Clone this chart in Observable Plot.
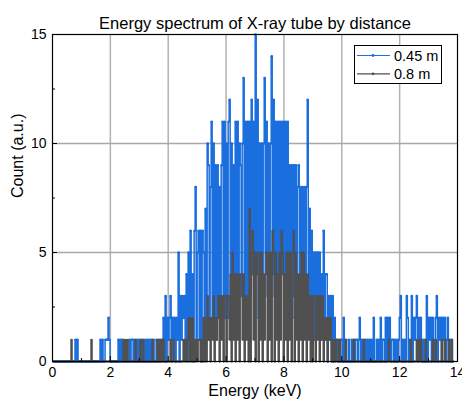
<!DOCTYPE html>
<html><head><meta charset="utf-8">
<script src="https://cdn.jsdelivr.net/npm/d3@7"></script>
<script src="https://cdn.jsdelivr.net/npm/@observablehq/plot@0.6"></script>
<style>
body{margin:0;background:#fff;}
#chart{width:462px;height:403px;}
</style>
</head><body><div id="chart"></div>
<script>
// ---- data (counts per channel, hex digit per channel) ----
const titleText = "Energy spectrum of X-ray tube by distance";
const xLabel = "Energy (keV)";
const yLabel = "Count (a.u.)";
const seriesNames = ["0.45 m", "0.8 m"];
const seriesColors = ["#1b6ede", "#505050"];
const channelStart = 0.035;   // keV, energy of first channel
const channelWidth = 0.0346;  // keV per channel
const counts045 = [
  "0000000000","0000000000","0010100000","0000000000","0000000101",
  "0011121000","0000010101","0000001011","0101010101","0010101010",
  "1001010101","2030212302","1202150313","2314051614","0681561606",
  "5172a918b2","a29192829b","2b2a2bc2a3","92b3b2a93a","d2b3b2b3c4",
  "b3f4c2a4a3","ad4b3a2ae4","c3b4b2b3b4","b3b4b39493","9293893828",
  "3828c37262","5152525142","6144031303","0211010110","2010010010",
  "1011012010","1010101010","2001010201","1020212011","0101012301",
  "0103201030","2123021201","0103021202","1023021202","1201201010"
].join("");
const counts08 = [
  "0000000000","0000000010","0000000000","0000000010","0000000000",
  "0000000000","0000000000","1010100000","0010000100","1000000001",
  "0000101010","1000000100","1000000000","1010120202","0101011010",
  "2020312021","3021230313","0330331405","1404140441","4031307056",
  "1505405150","4145051506","5051405165","0415051504","6051404150",
  "5140413030","3303130313","0212021201","0101101000","0010000000",
  "1000000000","1000000000","0000000000","0000010000","0000000000",
  "0000000100","0001010100","0010000001","0010000010","0100010010"
].join("");
const xTicks = [0, 2, 4, 6, 8, 10, 12, 14];
const yTicks = [0, 5, 10, 15];
const xMinor = [1, 3, 5, 7, 9, 11, 13];
const yMinor = [2.5, 7.5, 12.5];

// ---- build table ----
function toRows(str, name) {
  return Array.from(str, (c, i) => ({energy: channelStart + i * channelWidth, count: parseInt(c, 16), series: name}));
}
const rows045 = toRows(counts045, seriesNames[0]);
const rows08 = toRows(counts08, seriesNames[1]);

const W = 462, H = 403, mL = 52, mR = 5, mT = 34, mB = 42;
const fw = W - mL - mR, fh = H - mT - mB;
const FONT = "'Liberation Sans', Arial, sans-serif";

const plot = Plot.plot({
  width: W, height: H,
  marginLeft: mL, marginRight: mR, marginTop: mT, marginBottom: mB,
  style: {fontFamily: FONT, background: "#fff", color: "#000", overflow: "visible"},
  x: {domain: [0, 14]},
  y: {domain: [0, 15]},
  marks: [
    Plot.ruleX(xTicks.slice(1, -1), {stroke: "#b2b2b2", strokeWidth: 1.5}),
    Plot.ruleY(yTicks.slice(1, -1), {stroke: "#a8a8a8", strokeWidth: 1.5}),
    Plot.line(rows045, {x: "energy", y: "count", curve: "step", stroke: seriesColors[0], strokeWidth: 1.5}),
    Plot.dot(rows045, {x: "energy", y: "count", r: 1.3, fill: seriesColors[0]}),
    Plot.line(rows08, {x: "energy", y: "count", curve: "step", stroke: seriesColors[1], strokeWidth: 1.5}),
    Plot.dot(rows08, {x: "energy", y: "count", r: 0.9, fill: seriesColors[1]}),
    Plot.frame({stroke: "#000", strokeWidth: 1.2}),
    Plot.tickX(xTicks, {x: d => d, insetTop: fh - 5, stroke: "#000"}),
    Plot.tickX(xMinor, {x: d => d, insetTop: fh - 3, stroke: "#000"}),
    Plot.tickY(yTicks, {y: d => d, insetRight: fw - 5, stroke: "#000"}),
    Plot.tickY(yMinor, {y: d => d, insetRight: fw - 3, stroke: "#000"}),
    Plot.axisX(xTicks, {tickSize: 0, tickPadding: 6, fontSize: 14, label: null}),
    Plot.axisY(yTicks, {tickSize: 0, tickPadding: 6, fontSize: 14, label: null}),
    Plot.text([xLabel], {frameAnchor: "bottom", dy: 34.5, fontSize: 16}),
    Plot.text([yLabel], {frameAnchor: "left", dx: -35, rotate: -90, fontSize: 16}),
    Plot.text([titleText], {frameAnchor: "top", dy: -17, fontSize: 16.5})
  ]
});

// ---- legend inside the frame, top right ----
const svg = d3.select(plot);
const lg = svg.append("g").attr("font-family", FONT).attr("font-size", 14.5).attr("text-anchor", "start");
lg.append("rect").attr("x", 354.5).attr("y", 45.5).attr("width", 87).attr("height", 38)
  .attr("fill", "#fff").attr("stroke", "#000").attr("stroke-width", 1);
seriesNames.forEach((name, k) => {
  const yy = 55.5 + k * 18.3;
  lg.append("line").attr("x1", 357).attr("x2", 390).attr("y1", yy).attr("y2", yy)
    .attr("stroke", seriesColors[k]).attr("stroke-width", 1.2);
  lg.append("circle").attr("cx", 373).attr("cy", yy).attr("r", 1.4).attr("fill", seriesColors[k]);
  lg.append("text").attr("x", 394).attr("y", yy).attr("dy", "0.35em").attr("fill", "#000")
    .attr("text-anchor", "start").text(name);
});

document.getElementById("chart").appendChild(plot);
</script>
</body></html>
